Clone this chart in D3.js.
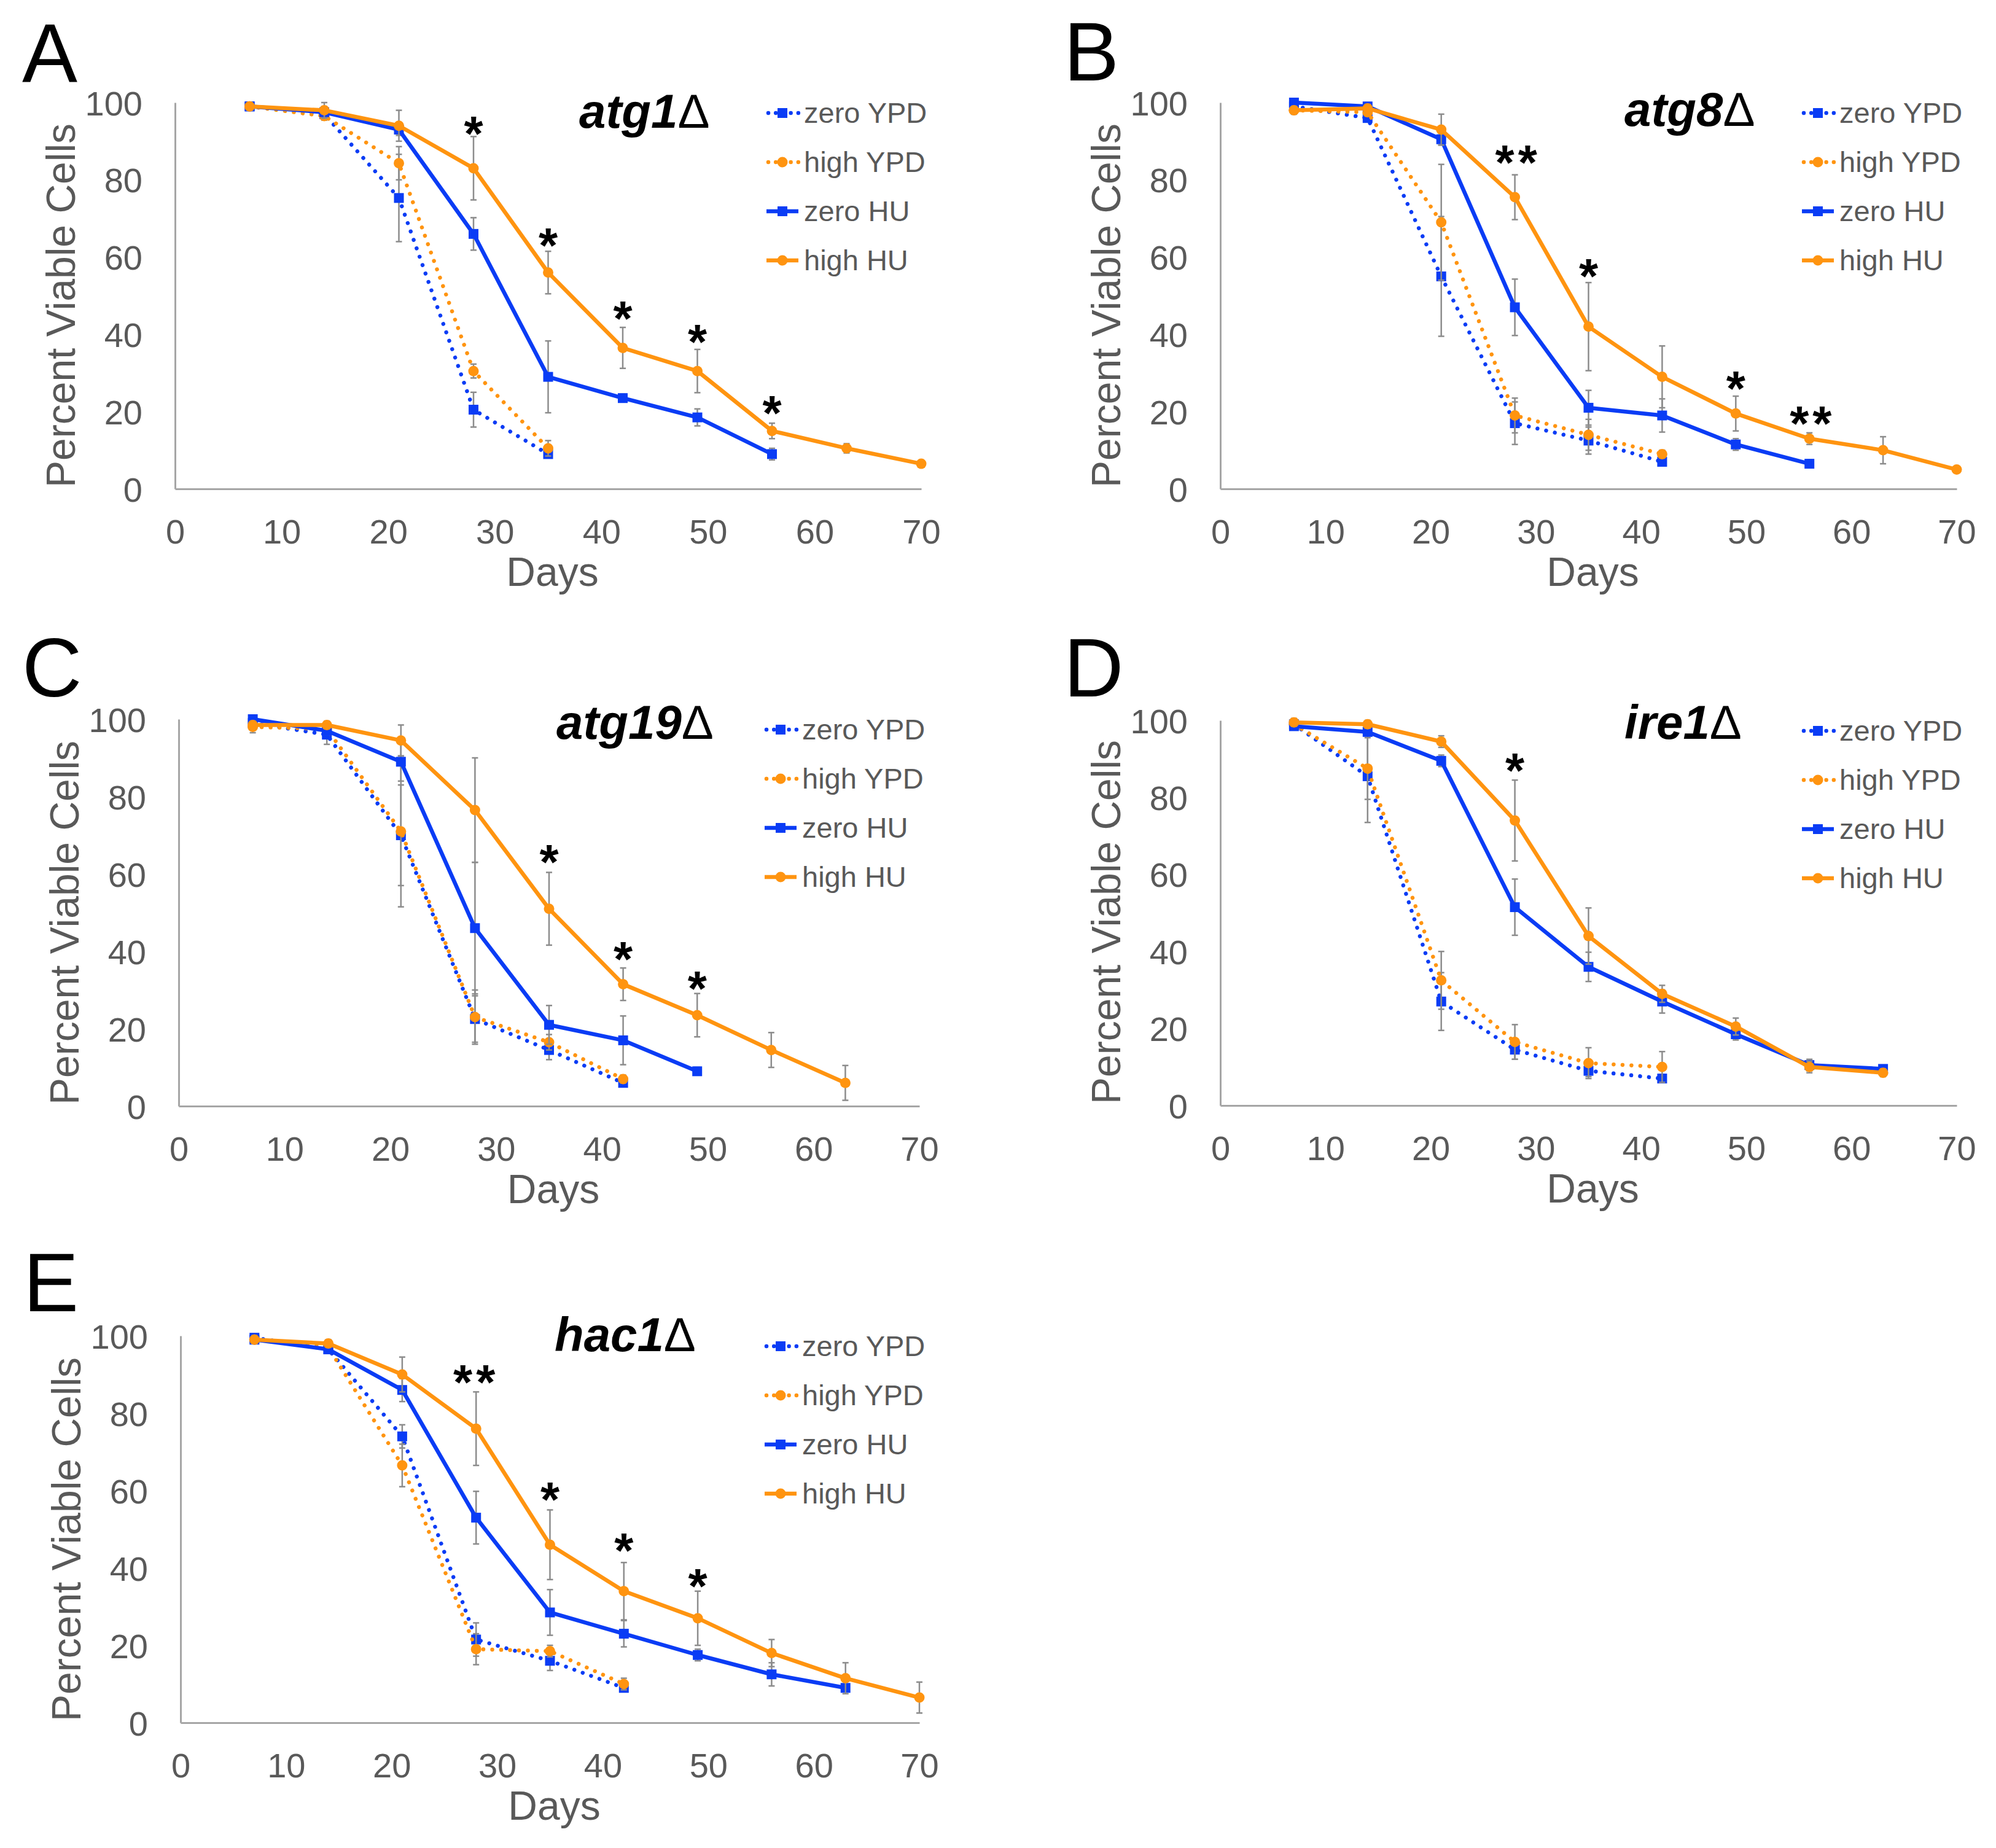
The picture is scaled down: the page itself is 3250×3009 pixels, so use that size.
<!DOCTYPE html>
<html>
<head>
<meta charset="utf-8">
<script src="https://cdn.jsdelivr.net/npm/d3@7"></script>
<style>
  html, body { margin: 0; padding: 0; background: #ffffff; }
  svg { display: block; }
</style>
</head>
<body>
<svg id="chart" width="3250" height="3009"></svg>
<script>
// ---------------- DATA ----------------
const days = [7, 14, 21, 28, 35, 42, 49, 56, 63, 70];
const seriesNames = ["zero YPD", "high YPD", "zero HU", "high HU"];
const xTicks = [0, 10, 20, 30, 40, 50, 60, 70];
const yTicks = [0, 20, 40, 60, 80, 100];
const panelLetters = ["A", "B", "C", "D", "E"];
const panelGenes = ["atg1", "atg8", "atg19", "ire1", "hac1"];

// each: [zero YPD, high YPD, zero HU, high HU], values indexed by days
const atg1Mean = [
  [99, 97, 75.3, 20.5, 9],
  [99, 96.5, 84.3, 30.5, 10.5],
  [99, 97.5, 93, 66, 29, 23.5, 18.5, 9],
  [99, 98, 94, 83, 56, 36.5, 30.5, 15, 10.5, 6.5]
];
const atg1Err = [
  [1, 1.5, 11.3, 4.5, 1],
  [1, 1, 4.3, 1.8, 2],
  [1, 1.5, 1.5, 4.2, 9.3, 1, 2.2, 1.5],
  [1, 2, 4, 8.2, 5.5, 5.3, 5.6, 2, 1.2, 0.5]
];
const atg1Stars = [[28, 94.9, "*"], [35, 66, "*"], [42, 47, "*"], [49, 41, "*"], [56, 22.6, "*"]];

const atg8Mean = [
  [99, 96, 55, 17, 12.5, 7],
  [98, 97.5, 69, 19, 14, 9],
  [100, 99, 90.5, 47, 21, 19, 11.5, 6.5],
  [98, 98.5, 93, 75.5, 42, 29, 19.5, 13, 10, 5]
];
const atg8Err = [
  [1, 1, 15.5, 5.5, 3.5, 1],
  [1, 1, 15, 4.5, 4, 1],
  [0.5, 1, 1.5, 7.3, 4.5, 4.3, 1.5, 1],
  [1, 1, 4, 5.8, 11.4, 8, 4.5, 1.5, 3.5, 0.5]
];
const atg8Stars = [[28.3, 87.5, "**"], [35, 58, "*"], [49, 29, "*"], [56.3, 19.9, "**"]];

const atg19Mean = [
  [99, 96, 70, 22.5, 14.5, 6],
  [98, 97.5, 71, 23, 16.5, 7],
  [100, 97, 89, 46, 21, 17, 9],
  [98.5, 98.5, 94.5, 76.5, 51, 31.5, 23.5, 14.5, 6]
];
const atg19Err = [
  [1, 2.5, 13, 6, 2.5, 1],
  [1.5, 1, 19.5, 7, 2, 1],
  [0.5, 1, 5, 17, 5, 6.3, 1],
  [1, 1, 4, 13.5, 9.4, 4.2, 5.6, 4.5, 4.5]
];
const atg19Stars = [[35, 66, "*"], [42, 41, "*"], [49, 33.3, "*"]];

const ire1Mean = [
  [99, 85.5, 27, 14.5, 9, 7],
  [99, 87.5, 32.5, 16.5, 11, 10],
  [98.5, 97, 89.5, 51.5, 36, 27, 18.5, 10.5, 9.5],
  [99.5, 99, 94.5, 74, 44, 29, 20.5, 10, 8.5]
];
const ire1Err = [
  [1, 12, 7.5, 2.5, 1.5, 1],
  [1, 8, 7.5, 4.5, 4, 4],
  [1, 1, 1.5, 7.3, 3.8, 3, 1.5, 1.5, 1],
  [1, 1, 1.5, 10.5, 7.3, 2.2, 2.2, 1.5, 1]
];
const ire1Stars = [[28, 90, "*"]];

const hac1Mean = [
  [99.5, 96.5, 74, 21.5, 16, 9],
  [99, 97, 66.5, 19, 18.5, 10],
  [99, 96.5, 86, 53, 28.5, 23, 17.5, 12.5, 9],
  [99, 98, 90, 76, 46, 34, 27, 18, 11.5, 6.5]
];
const hac1Err = [
  [1, 1, 3, 4.3, 2.5, 1],
  [1, 1, 5.5, 4, 1.5, 1.5],
  [1, 1, 3, 6.8, 5.9, 3.4, 1.5, 3, 1],
  [1, 1, 4.5, 9.5, 9, 7.4, 7, 3.5, 4, 4]
];
const hac1Stars = [[28, 91, "**"], [35, 60.7, "*"], [42, 47.4, "*"], [49, 38.3, "*"]];

// ---------------- LAYOUT / STYLE ----------------
const panelMeans = [atg1Mean, atg8Mean, atg19Mean, ire1Mean, hac1Mean];
const panelErrs = [atg1Err, atg8Err, atg19Err, ire1Err, hac1Err];
const panelStars = [atg1Stars, atg8Stars, atg19Stars, ire1Stars, hac1Stars];

const layout = [
  { x0: 285, x1: 1500, yTop: 167, yBot: 796, titleX: 943, titleY: 208, letterX: 36, letterY: 133 },
  { x0: 1987, x1: 3186, yTop: 167, yBot: 796, titleX: 2645, titleY: 205, letterX: 1732, letterY: 131 },
  { x0: 291, x1: 1497, yTop: 1171, yBot: 1801, titleX: 906, titleY: 1203, letterX: 36, letterY: 1134 },
  { x0: 1987, x1: 3186, yTop: 1173, yBot: 1800, titleX: 2645, titleY: 1203, letterX: 1732, letterY: 1134 },
  { x0: 294, x1: 1497, yTop: 2175, yBot: 2805, titleX: 903, titleY: 2200, letterX: 38, letterY: 2135 }
];

const BLUE = "#0a3cf5";
const ORANGE = "#ff9410";
const seriesColor = [BLUE, ORANGE, BLUE, ORANGE];
const seriesDotted = [true, true, false, false];
const seriesSquare = [true, false, true, false];
const FONT = "'Liberation Sans', Arial, Helvetica, sans-serif";
const GREY_TEXT = "#595959";
const AXIS_GREY = "#a6a6a6";
const ERR_GREY = "#8c8c8c";

const svg = d3.select("#chart");
svg.append("rect").attr("width", 3250).attr("height", 3009).attr("fill", "#fff");

function drawMarker(g, isSquare, cx, cy, color) {
  if (isSquare) {
    g.append("rect").attr("x", cx - 8).attr("y", cy - 8)
      .attr("width", 16).attr("height", 16).attr("fill", color);
  } else {
    g.append("circle").attr("cx", cx).attr("cy", cy).attr("r", 8.5).attr("fill", color);
  }
}

layout.forEach((L, p) => {
  const g = svg.append("g");
  const x = d3.scaleLinear().domain([0, 70]).range([L.x0, L.x1]);
  const y = d3.scaleLinear().domain([0, 100]).range([L.yBot, L.yTop]);

  // axes
  const xAxis = g.append("g").attr("transform", `translate(0,${L.yBot})`)
    .call(d3.axisBottom(x).tickValues(xTicks).tickSize(0).tickSizeOuter(0));
  const yAxis = g.append("g").attr("transform", `translate(${L.x0},0)`)
    .call(d3.axisLeft(y).tickValues(yTicks).tickSize(0).tickSizeOuter(0));
  [xAxis, yAxis].forEach(a => {
    a.select(".domain").attr("stroke", AXIS_GREY).attr("stroke-width", 3);
    a.selectAll("text").attr("fill", GREY_TEXT).attr("font-family", FONT).attr("font-size", 56);
  });
  xAxis.selectAll("text").attr("y", 89).attr("dy", 0);
  yAxis.selectAll("text").attr("x", -53).attr("dy", "0.36em");

  // axis titles
  g.append("text")
    .attr("transform", `translate(${L.x0 - 163},${L.yBot - 2}) rotate(-90)`)
    .attr("text-anchor", "start")
    .attr("font-family", FONT).attr("font-size", 66).attr("fill", GREY_TEXT)
    .text("Percent Viable Cells");
  g.append("text")
    .attr("x", (L.x0 + L.x1) / 2 + 7).attr("y", L.yBot + 158)
    .attr("text-anchor", "middle")
    .attr("font-family", FONT).attr("font-size", 66).attr("fill", GREY_TEXT)
    .text("Days");

  // panel letter
  g.append("text").attr("x", L.letterX).attr("y", L.letterY)
    .attr("font-family", FONT).attr("font-size", 135).attr("fill", "#000")
    .text(panelLetters[p]);

  // gene title
  const t = g.append("text").attr("x", L.titleX).attr("y", L.titleY)
    .attr("font-family", FONT).attr("font-size", 78).attr("fill", "#000");
  t.append("tspan").attr("font-weight", "bold").attr("font-style", "italic").text(panelGenes[p]);
  t.append("tspan").attr("font-weight", "normal").text("\u0394");

  // series
  const means = panelMeans[p], errs = panelErrs[p];
  means.forEach((vals, s) => {
    const pts = vals.map((v, i) => ({ d: days[i], v: v, e: errs[s][i] }));
    const sg = g.append("g");
    // error bars
    pts.forEach(pt => {
      const cx = x(pt.d);
      sg.append("line").attr("x1", cx).attr("x2", cx)
        .attr("y1", y(pt.v - pt.e)).attr("y2", y(pt.v + pt.e))
        .attr("stroke", ERR_GREY).attr("stroke-width", 2.5);
      [pt.v - pt.e, pt.v + pt.e].forEach(ev => {
        sg.append("line").attr("x1", cx - 5).attr("x2", cx + 5)
          .attr("y1", y(ev)).attr("y2", y(ev))
          .attr("stroke", ERR_GREY).attr("stroke-width", 2.5);
      });
    });
    // line
    const line = d3.line().x(d => x(d.d)).y(d => y(d.v));
    const path = sg.append("path").datum(pts).attr("d", line)
      .attr("fill", "none").attr("stroke", seriesColor[s]);
    if (seriesDotted[s]) {
      path.attr("stroke-width", 6.5).attr("stroke-linecap", "round")
        .attr("stroke-dasharray", "0.01 14.5");
    } else {
      path.attr("stroke-width", 6.5).attr("stroke-linejoin", "round");
    }
    pts.forEach(pt => drawMarker(sg, seriesSquare[s], x(pt.d), y(pt.v), seriesColor[s]));
  });

  // significance stars
  panelStars[p].forEach(st => {
    g.append("text").attr("x", x(st[0])).attr("y", y(st[1]) + 46)
      .attr("text-anchor", "middle")
      .attr("font-family", FONT).attr("font-weight", "bold").attr("font-size", 80)
      .attr("letter-spacing", st[2].length > 1 ? 6 : 0)
      .attr("fill", "#000").text(st[2]);
  });

  // legend
  const lx0 = L.x1 - 252, lx1 = lx0 + 52, tx = L.x1 - 191;
  seriesNames.forEach((name, s) => {
    const ly = L.yTop + 17 + 80 * s;
    const lg = g.append("g");
    const ll = lg.append("line").attr("x1", lx0).attr("x2", lx1).attr("y1", ly).attr("y2", ly)
      .attr("stroke", seriesColor[s]);
    if (seriesDotted[s]) {
      ll.attr("x1", lx0 + 3).attr("stroke-width", 6.5).attr("stroke-linecap", "round")
        .attr("stroke-dasharray", "0.01 12.2");
    } else {
      ll.attr("stroke-width", 6.5);
    }
    drawMarker(lg, seriesSquare[s], (lx0 + lx1) / 2, ly, seriesColor[s]);
    lg.append("text").attr("x", tx).attr("y", ly + 16)
      .attr("font-family", FONT).attr("font-size", 47).attr("fill", GREY_TEXT)
      .text(name);
  });
});
</script>
</body>
</html>
